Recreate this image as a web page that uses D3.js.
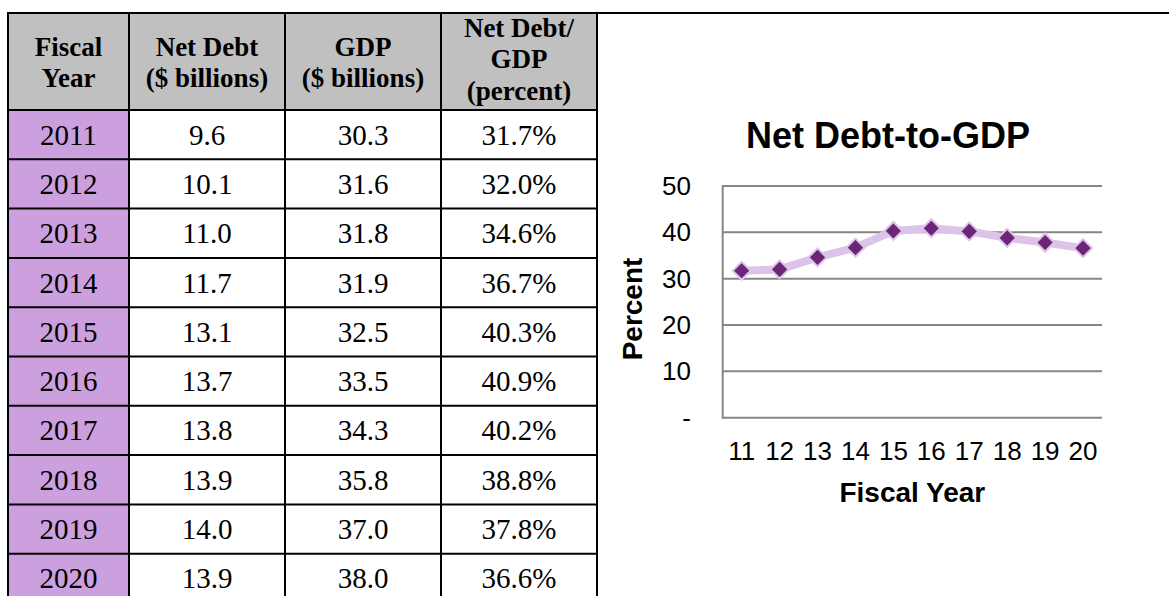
<!DOCTYPE html>
<html>
<head>
<meta charset="utf-8">
<script src="https://cdn.jsdelivr.net/npm/d3@7"></script>
<style>
  body { margin: 0; background: #fff; }
  svg { display: block; }
</style>
</head>
<body>
<div id="sandbox"></div>
<script>
const years = ['2011','2012','2013','2014','2015','2016','2017','2018','2019','2020'];
const netDebt = ['9.6','10.1','11.0','11.7','13.1','13.7','13.8','13.9','14.0','13.9'];
const gdp = ['30.3','31.6','31.8','31.9','32.5','33.5','34.3','35.8','37.0','38.0'];
const ratio = [31.7, 32.0, 34.6, 36.7, 40.3, 40.9, 40.2, 38.8, 37.8, 36.6];
const headers = [['Fiscal','Year'], ['Net Debt','($ billions)'], ['GDP','($ billions)'], ['Net Debt/','GDP','(percent)']];
const xLabels = ['11','12','13','14','15','16','17','18','19','20'];
const yTicks = [0, 10, 20, 30, 40, 50];

const svg = d3.select('#sandbox').append('svg').attr('width', 1169).attr('height', 596);

// ---- table ----
const colEdges = [8, 129, 285, 441, 597];
const headTop = 13, headBottom = 110, rowH = 49.3;
const serif = '"Liberation Serif", "Times New Roman", serif';

const tbl = svg.append('g');

// header cells
tbl.selectAll('rect.head').data(headers).enter().append('rect')
  .attr('x', (d,i) => colEdges[i]).attr('y', headTop)
  .attr('width', (d,i) => colEdges[i+1]-colEdges[i]).attr('height', headBottom-headTop)
  .attr('fill', '#c0c0c0');

headers.forEach((lines, i) => {
  const cx = (colEdges[i]+colEdges[i+1])/2;
  const base = lines.length === 2 ? [56, 87] : [37, 68, 100];
  tbl.append('text')
    .attr('text-anchor', 'middle')
    .style('font-family', serif).style('font-size', '27px').style('font-weight', 'bold')
    .selectAll('tspan').data(lines).enter().append('tspan')
    .attr('x', cx).attr('y', (d,j) => base[j]).text(d => d);
});

// year cells
tbl.selectAll('rect.year').data(years).enter().append('rect')
  .attr('x', colEdges[0]).attr('y', (d,i) => headBottom + i*rowH)
  .attr('width', colEdges[1]-colEdges[0]).attr('height', rowH)
  .attr('fill', '#cc9fdf');

const rows = years.map((y,i) => [y, netDebt[i], gdp[i], ratio[i].toFixed(1)+'%']);
rows.forEach((r, i) => {
  tbl.selectAll(null).data(r).enter().append('text')
    .attr('x', (d,j) => (colEdges[j]+colEdges[j+1])/2)
    .attr('y', headBottom + i*rowH + rowH/2 + 10)
    .attr('text-anchor', 'middle')
    .style('font-family', serif).style('font-size', '29px')
    .text(d => d);
});

// grid lines of table
const hLines = [headTop, headBottom].concat(years.map((d,i) => headBottom + (i+1)*rowH));
tbl.selectAll('line.h').data(hLines).enter().append('line')
  .attr('x1', colEdges[0]-1).attr('x2', (d,i) => i === 0 ? 1169 : colEdges[4]+1)
  .attr('y1', d => d).attr('y2', d => d)
  .attr('stroke', '#000').attr('stroke-width', 2);
tbl.selectAll('line.v').data(colEdges).enter().append('line')
  .attr('x1', d => d).attr('x2', d => d)
  .attr('y1', headTop-1).attr('y2', 596)
  .attr('stroke', '#000').attr('stroke-width', 2);

// ---- chart ----
const sans = 'Arial, "Liberation Sans", sans-serif';
const plotL = 722.7, plotR = 1102, plotT = 186, plotB = 417.7;
const x = d3.scaleBand().domain(xLabels).range([plotL, plotR]);
const y = d3.scaleLinear().domain([0, 50]).range([plotB, plotT]);

const chart = svg.append('g');

chart.append('text')
  .attr('x', 888).attr('y', 148).attr('text-anchor', 'middle')
  .style('font-family', sans).style('font-size', '36px').style('font-weight', 'bold')
  .text('Net Debt-to-GDP');

// gridlines
chart.selectAll('line.grid').data(yTicks).enter().append('line')
  .attr('x1', plotL).attr('x2', plotR)
  .attr('y1', d => y(d)).attr('y2', d => y(d))
  .attr('stroke', '#868686').attr('stroke-width', 2);
chart.append('line')
  .attr('x1', plotL).attr('x2', plotL).attr('y1', plotT-1).attr('y2', plotB+1)
  .attr('stroke', '#868686').attr('stroke-width', 2);

// y tick labels
chart.selectAll('text.yt').data(yTicks).enter().append('text')
  .attr('x', d => d === 0 ? 691 : 691).attr('y', d => y(d) + 9)
  .attr('text-anchor', 'end')
  .style('font-family', sans).style('font-size', '26px')
  .text(d => d === 0 ? '-' : d);

// x tick labels
chart.selectAll('text.xt').data(xLabels).enter().append('text')
  .attr('x', d => x(d) + x.bandwidth()/2).attr('y', 460)
  .attr('text-anchor', 'middle')
  .style('font-family', sans).style('font-size', '26px')
  .text(d => d);

// axis titles
chart.append('text')
  .attr('x', plotL + (plotR-plotL)/2).attr('y', 502).attr('text-anchor', 'middle')
  .style('font-family', sans).style('font-size', '28px').style('font-weight', 'bold')
  .text('Fiscal Year');
chart.append('text')
  .attr('transform', 'translate(642,309) rotate(-90)').attr('text-anchor', 'middle')
  .style('font-family', sans).style('font-size', '28px').style('font-weight', 'bold')
  .text('Percent');

// series
const pts = xLabels.map((d,i) => ({k: d, v: ratio[i]}));
const line = d3.line().x(d => x(d.k) + x.bandwidth()/2).y(d => y(d.v));
chart.append('path').datum(pts)
  .attr('d', line).attr('fill', 'none')
  .attr('stroke', '#dcc3e9').attr('stroke-width', 8).attr('stroke-linejoin', 'round');

chart.selectAll('path.mk').data(pts).enter().append('path')
  .attr('transform', d => `translate(${x(d.k) + x.bandwidth()/2},${y(d.v)})`)
  .attr('d', 'M0,-9L9,0L0,9L-9,0Z')
  .attr('fill', '#6b2677').attr('stroke', '#dcc3e9').attr('stroke-width', 2);
</script>
</body>
</html>
